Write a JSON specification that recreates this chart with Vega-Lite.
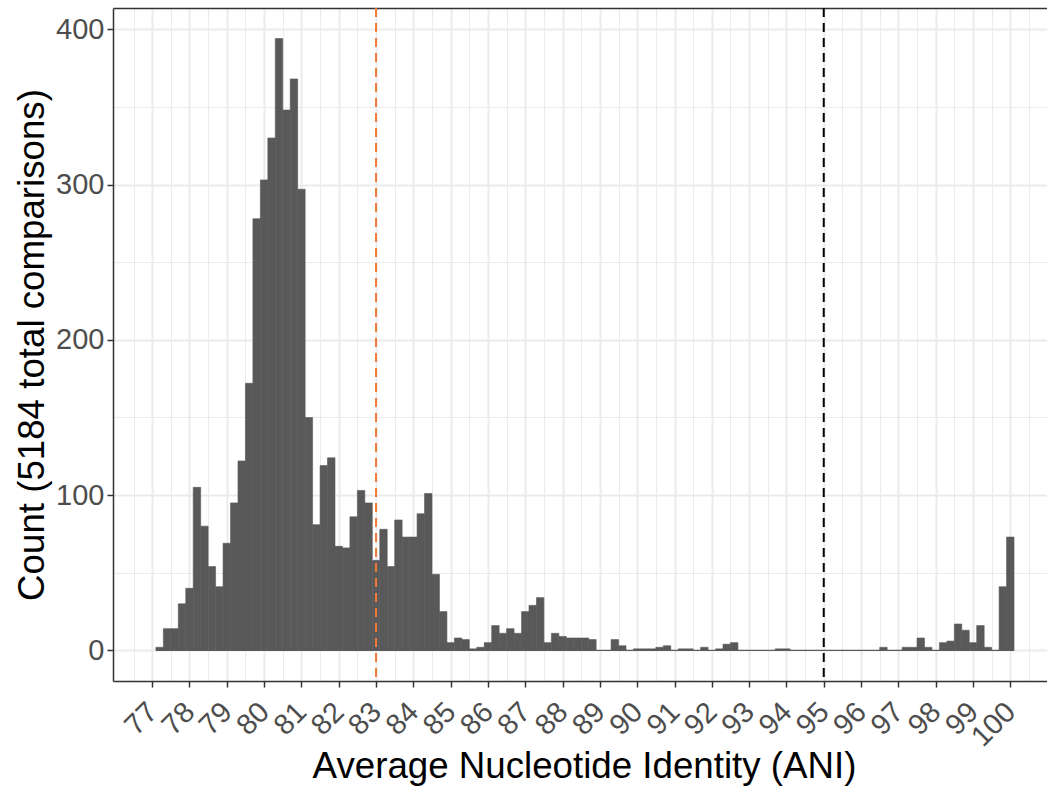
{
  "$schema": "https://vega.github.io/schema/vega-lite/v6.json",
  "width": 934,
  "height": 673,
  "autosize": {"type": "none"},
  "padding": {"left": 113, "top": 8, "right": 0, "bottom": 106},
  "background": "white",
  "config": {
    "view": {"stroke": null},
    "font": "Liberation Sans",
    "axis": {
      "labelFont": "Liberation Sans",
      "titleFont": "Liberation Sans",
      "labelFontSize": 29,
      "labelColor": "#4D4D4D",
      "titleFontSize": 36.7,
      "titleColor": "#000000",
      "titleFontWeight": "normal",
      "gridColor": "#EBEBEB",
      "domainColor": "#333333",
      "tickColor": "#333333",
      "domainWidth": 1.5,
      "tickWidth": 1.5,
      "tickSize": 6
    }
  },
  "resolve": {"axis": {"x": "independent", "y": "independent"}},
  "layer": [
    {
      "data": {
        "values": [
          {"start": 77.1, "end": 77.3, "count": 2},
          {"start": 77.3, "end": 77.5, "count": 14},
          {"start": 77.5, "end": 77.7, "count": 14},
          {"start": 77.7, "end": 77.9, "count": 30},
          {"start": 77.9, "end": 78.1, "count": 40},
          {"start": 78.1, "end": 78.3, "count": 105},
          {"start": 78.3, "end": 78.5, "count": 80},
          {"start": 78.5, "end": 78.7, "count": 54},
          {"start": 78.7, "end": 78.9, "count": 41},
          {"start": 78.9, "end": 79.1, "count": 69},
          {"start": 79.1, "end": 79.3, "count": 95},
          {"start": 79.3, "end": 79.5, "count": 122},
          {"start": 79.5, "end": 79.7, "count": 172},
          {"start": 79.7, "end": 79.9, "count": 278},
          {"start": 79.9, "end": 80.1, "count": 303},
          {"start": 80.1, "end": 80.3, "count": 330},
          {"start": 80.3, "end": 80.5, "count": 394},
          {"start": 80.5, "end": 80.7, "count": 348},
          {"start": 80.7, "end": 80.9, "count": 368},
          {"start": 80.9, "end": 81.1, "count": 297},
          {"start": 81.1, "end": 81.3, "count": 150},
          {"start": 81.3, "end": 81.5, "count": 81},
          {"start": 81.5, "end": 81.7, "count": 119},
          {"start": 81.7, "end": 81.9, "count": 124},
          {"start": 81.9, "end": 82.1, "count": 67},
          {"start": 82.1, "end": 82.3, "count": 66},
          {"start": 82.3, "end": 82.5, "count": 86},
          {"start": 82.5, "end": 82.7, "count": 103},
          {"start": 82.7, "end": 82.9, "count": 95},
          {"start": 82.9, "end": 83.1, "count": 58},
          {"start": 83.1, "end": 83.3, "count": 78},
          {"start": 83.3, "end": 83.5, "count": 54},
          {"start": 83.5, "end": 83.7, "count": 84},
          {"start": 83.7, "end": 83.9, "count": 73},
          {"start": 83.9, "end": 84.1, "count": 73},
          {"start": 84.1, "end": 84.3, "count": 88},
          {"start": 84.3, "end": 84.5, "count": 101},
          {"start": 84.5, "end": 84.7, "count": 49},
          {"start": 84.7, "end": 84.9, "count": 25},
          {"start": 84.9, "end": 85.1, "count": 5},
          {"start": 85.1, "end": 85.3, "count": 8},
          {"start": 85.3, "end": 85.5, "count": 7},
          {"start": 85.5, "end": 85.7, "count": 1},
          {"start": 85.7, "end": 85.9, "count": 2},
          {"start": 85.9, "end": 86.1, "count": 5},
          {"start": 86.1, "end": 86.3, "count": 16},
          {"start": 86.3, "end": 86.5, "count": 11},
          {"start": 86.5, "end": 86.7, "count": 14},
          {"start": 86.7, "end": 86.9, "count": 11},
          {"start": 86.9, "end": 87.1, "count": 25},
          {"start": 87.1, "end": 87.3, "count": 29},
          {"start": 87.3, "end": 87.5, "count": 34},
          {"start": 87.5, "end": 87.7, "count": 5},
          {"start": 87.7, "end": 87.9, "count": 11},
          {"start": 87.9, "end": 88.1, "count": 9},
          {"start": 88.1, "end": 88.3, "count": 8},
          {"start": 88.3, "end": 88.5, "count": 8},
          {"start": 88.5, "end": 88.7, "count": 8},
          {"start": 88.7, "end": 88.9, "count": 7},
          {"start": 88.9, "end": 89.1, "count": 0},
          {"start": 89.1, "end": 89.3, "count": 0},
          {"start": 89.3, "end": 89.5, "count": 7},
          {"start": 89.5, "end": 89.7, "count": 3},
          {"start": 89.7, "end": 89.9, "count": 0},
          {"start": 89.9, "end": 90.1, "count": 1},
          {"start": 90.1, "end": 90.3, "count": 1},
          {"start": 90.3, "end": 90.5, "count": 1},
          {"start": 90.5, "end": 90.7, "count": 2},
          {"start": 90.7, "end": 90.9, "count": 3},
          {"start": 90.9, "end": 91.1, "count": 0},
          {"start": 91.1, "end": 91.3, "count": 1},
          {"start": 91.3, "end": 91.5, "count": 1},
          {"start": 91.5, "end": 91.7, "count": 0},
          {"start": 91.7, "end": 91.9, "count": 2},
          {"start": 91.9, "end": 92.1, "count": 0},
          {"start": 92.1, "end": 92.3, "count": 1},
          {"start": 92.3, "end": 92.5, "count": 4},
          {"start": 92.5, "end": 92.7, "count": 5},
          {"start": 92.7, "end": 92.9, "count": 0},
          {"start": 92.9, "end": 93.1, "count": 0},
          {"start": 93.1, "end": 93.3, "count": 0},
          {"start": 93.3, "end": 93.5, "count": 0},
          {"start": 93.5, "end": 93.7, "count": 0},
          {"start": 93.7, "end": 93.9, "count": 1},
          {"start": 93.9, "end": 94.1, "count": 1},
          {"start": 94.1, "end": 94.3, "count": 0},
          {"start": 94.3, "end": 94.5, "count": 0},
          {"start": 94.5, "end": 94.7, "count": 0},
          {"start": 94.7, "end": 94.9, "count": 0},
          {"start": 94.9, "end": 95.1, "count": 0},
          {"start": 95.1, "end": 95.3, "count": 0},
          {"start": 95.3, "end": 95.5, "count": 0},
          {"start": 95.5, "end": 95.7, "count": 0},
          {"start": 95.7, "end": 95.9, "count": 0},
          {"start": 95.9, "end": 96.1, "count": 0},
          {"start": 96.1, "end": 96.3, "count": 0},
          {"start": 96.3, "end": 96.5, "count": 0},
          {"start": 96.5, "end": 96.7, "count": 2},
          {"start": 96.7, "end": 96.9, "count": 0},
          {"start": 96.9, "end": 97.1, "count": 0},
          {"start": 97.1, "end": 97.3, "count": 2},
          {"start": 97.3, "end": 97.5, "count": 2},
          {"start": 97.5, "end": 97.7, "count": 8},
          {"start": 97.7, "end": 97.9, "count": 2},
          {"start": 97.9, "end": 98.1, "count": 0},
          {"start": 98.1, "end": 98.3, "count": 5},
          {"start": 98.3, "end": 98.5, "count": 6},
          {"start": 98.5, "end": 98.7, "count": 17},
          {"start": 98.7, "end": 98.9, "count": 13},
          {"start": 98.9, "end": 99.1, "count": 5},
          {"start": 99.1, "end": 99.3, "count": 16},
          {"start": 99.3, "end": 99.5, "count": 2},
          {"start": 99.5, "end": 99.7, "count": 0},
          {"start": 99.7, "end": 99.9, "count": 41},
          {"start": 99.9, "end": 100.1, "count": 73}
        ]
      },
      "mark": {"type": "bar", "color": "#595959", "stroke": "#595959", "strokeWidth": 0.6},
      "encoding": {
        "x": {
          "field": "start",
          "type": "quantitative",
          "scale": {"domain": [75.95, 100.984], "nice": false, "zero": false},
          "axis": {
            "orient": "bottom",
            "values": [77, 78, 79, 80, 81, 82, 83, 84, 85, 86, 87, 88, 89, 90, 91, 92, 93, 94, 95, 96, 97, 98, 99, 100],
            "grid": true,
            "gridWidth": 2,
            "labelAngle": -45,
            "labelAlign": "right",
            "labelBaseline": "middle",
            "labelPadding": 20,
            "labelOverlap": false,
            "labelFlush": false,
            "labelBound": false,
            "title": "Average Nucleotide Identity (ANI)",
            "titleX": 471,
            "titleY": 96,
            "titleAlign": "center",
            "titleBaseline": "alphabetic",
            "titleAngle": 0
          }
        },
        "x2": {"field": "end"},
        "y": {
          "field": "count",
          "type": "quantitative",
          "scale": {"domain": [-19.7, 413.7], "nice": false, "zero": false},
          "axis": {
            "orient": "left",
            "values": [0, 100, 200, 300, 400],
            "grid": true,
            "gridWidth": 2,
            "labelPadding": 3,
            "title": "Count (5184 total comparisons)",
            "titleX": -70,
            "titleY": 336.5,
            "titleAngle": -90,
            "titleAlign": "center",
            "titleBaseline": "alphabetic"
          }
        },
        "y2": {"datum": 0}
      }
    },
    {
      "data": {"values": [{}]},
      "mark": {"type": "rule", "color": "#595959", "strokeWidth": 1},
      "encoding": {
        "x": {"datum": 77.1, "type": "quantitative", "scale": {"domain": [75.95, 100.984], "nice": false, "zero": false}, "axis": null},
        "x2": {"datum": 100.1},
        "y": {
          "datum": 0,
          "type": "quantitative",
          "scale": {"domain": [-19.7, 413.7], "nice": false, "zero": false},
          "axis": {
            "orient": "right",
            "values": [50, 150, 250, 350],
            "grid": true,
            "gridWidth": 1,
            "domain": false,
            "ticks": false,
            "labels": false,
            "title": null
          }
        }
      }
    },
    {
      "data": {
        "values": [
          {"ani": 83, "line": "genus"},
          {"ani": 95, "line": "species"}
        ]
      },
      "mark": {"type": "rule", "strokeWidth": 2, "strokeDash": [9, 6]},
      "encoding": {
        "x": {
          "field": "ani",
          "type": "quantitative",
          "scale": {"domain": [75.95, 100.984], "nice": false, "zero": false},
          "axis": {
            "orient": "top",
            "values": [76.5, 77.5, 78.5, 79.5, 80.5, 81.5, 82.5, 83.5, 84.5, 85.5, 86.5, 87.5, 88.5, 89.5, 90.5, 91.5, 92.5, 93.5, 94.5, 95.5, 96.5, 97.5, 98.5, 99.5, 100.5],
            "grid": true,
            "gridWidth": 1,
            "domain": true,
            "ticks": false,
            "labels": false,
            "title": null
          }
        },
        "color": {
          "field": "line",
          "type": "nominal",
          "scale": {"domain": ["genus", "species"], "range": ["#F07A38", "#000000"]},
          "legend": null
        }
      }
    }
  ]
}
